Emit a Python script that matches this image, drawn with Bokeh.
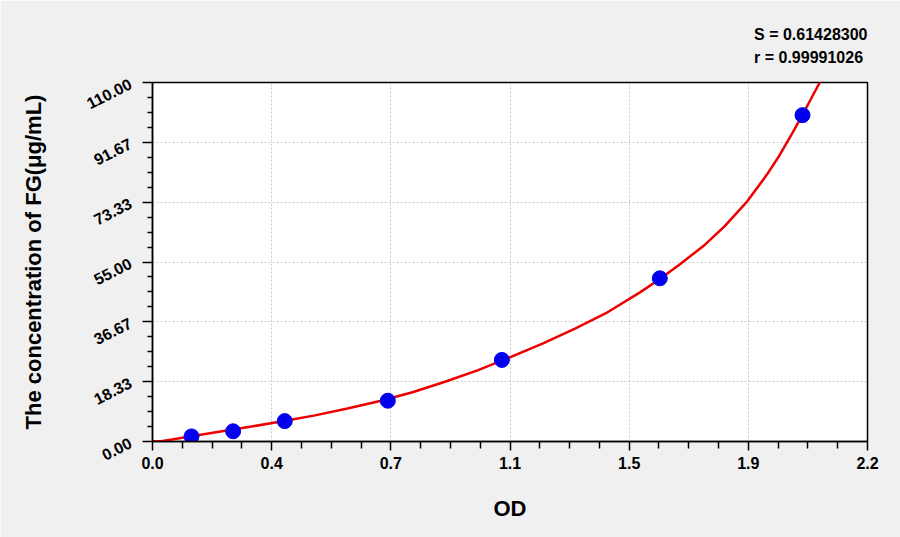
import numpy as np
from bokeh.plotting import figure
from bokeh.models import Range1d, FixedTicker, Title
from bokeh.embed import file_html
from bokeh.resources import INLINE

# ---- data ----
od_points = [0.120, 0.248, 0.407, 0.724, 1.075, 1.561, 2.000]
conc_points = [1.5625, 3.125, 6.25, 12.5, 25.0, 50.0, 100.0]

curve_od = [0.0, 0.03, 0.06, 0.12, 0.20, 0.30, 0.40, 0.50, 0.60, 0.70, 0.80, 0.90, 1.00,
            1.08, 1.20, 1.30, 1.40, 1.50, 1.56, 1.62, 1.70, 1.76, 1.83, 1.89, 1.93, 1.97,
            2.00, 2.03, 2.06]
curve_conc = [0.0, 0.15, 0.6, 1.6, 2.9, 4.5, 6.2, 8.0, 10.1, 12.4, 15.1, 18.3, 21.8,
              25.0, 30.0, 34.6, 39.6, 45.7, 49.7, 54.1, 60.3, 65.9, 73.6, 81.7, 87.8, 94.7,
              100.1, 105.7, 111.3]

x_ticks = [0.0, 0.3667, 0.7333, 1.1, 1.4667, 1.8333, 2.2]
x_tick_labels = ["0.0", "0.4", "0.7", "1.1", "1.5", "1.9", "2.2"]
y_ticks = [0.0, 18.33, 36.67, 55.0, 73.33, 91.67, 110.0]
y_tick_labels = ["0.00", "18.33", "36.67", "55.00", "73.33", "91.67", "110.00"]

stat_lines = ["S = 0.61428300", "r = 0.99991026"]
x_title = "OD"
y_title = "The concentration of FG(\u03bcg/mL)"

FONT = "Liberation Sans"
BG = "#f0f0f0"

def minors(ticks, n=4):
    out = []
    for a, b in zip(ticks[:-1], ticks[1:]):
        for k in range(1, n):
            out.append(a + (b - a) * k / n)
    return out

p = figure(width=900, height=537, output_backend="svg", toolbar_location=None, title=None,
           x_range=Range1d(0, 2.2), y_range=Range1d(0, 110),
           min_border_left=152, min_border_right=33, min_border_top=82, min_border_bottom=96,
           background_fill_color="white", border_fill_color=BG)

p.outline_line_color = "black"
p.outline_line_width = 1.5

p.xaxis.ticker = FixedTicker(ticks=x_ticks, minor_ticks=minors(x_ticks))
p.xaxis.major_label_overrides = {t: l for t, l in zip(x_ticks, x_tick_labels)}
p.yaxis.ticker = FixedTicker(ticks=y_ticks, minor_ticks=minors(y_ticks))
p.yaxis.major_label_overrides = {t: l for t, l in zip(y_ticks, y_tick_labels)}

for ax in (p.xaxis[0], p.yaxis[0]):
    ax.axis_line_color = "black"
    ax.axis_line_width = 1.5
    ax.major_tick_line_color = "black"
    ax.major_tick_line_width = 1.5
    ax.minor_tick_line_color = "black"
    ax.minor_tick_line_width = 1.5
    ax.major_tick_in = 0
    ax.minor_tick_in = 0
    ax.major_label_text_font = FONT
    ax.major_label_text_font_style = "bold"
    ax.major_label_text_color = "black"
    ax.axis_label_text_font = FONT
    ax.axis_label_text_font_style = "bold"
    ax.axis_label_text_color = "black"

p.xaxis.major_tick_out = 9
p.xaxis.minor_tick_out = 7
p.xaxis.major_label_text_font_size = "16px"
p.xaxis.major_label_standoff = 6
p.xaxis.axis_label = x_title
p.xaxis.axis_label_text_font_size = "22px"
p.xaxis.axis_label_standoff = 24

p.yaxis.major_tick_out = 10
p.yaxis.minor_tick_out = 5
p.yaxis.major_label_text_font_size = "16px"
p.yaxis.major_label_orientation = 0.47
p.yaxis.major_label_standoff = 12
p.yaxis.axis_label = y_title
p.yaxis.axis_label_text_font_size = "22px"
p.yaxis.axis_label_standoff = 33

p.grid.grid_line_color = "#c8c8c8"
p.grid.grid_line_dash = "2 2"
p.grid.grid_line_width = 1

# stats text: two lines above the frame, right side
p.add_layout(Title(text="\n".join(stat_lines), align="right", text_font=FONT,
                   text_font_style="bold", text_font_size="16px", text_color="black",
                   text_line_height=1.4, standoff=32), "above")

p.line(curve_od, curve_conc, line_color="#ee0000", line_width=2.5)
p.scatter(od_points, conc_points, size=15, fill_color="#0000ee", line_color="#0000ee")

open("out.html", "w").write(file_html(p, INLINE))
